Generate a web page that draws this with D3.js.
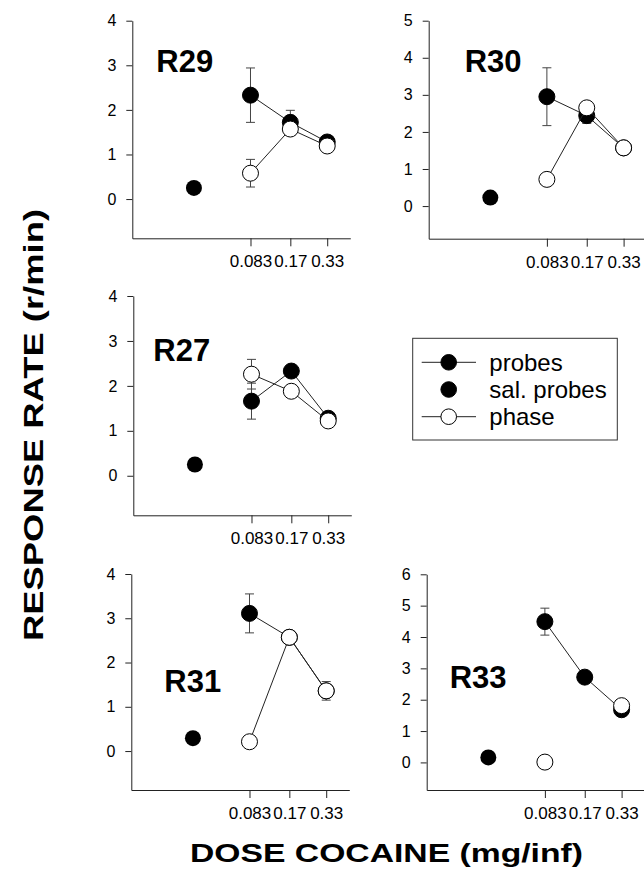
<!DOCTYPE html>
<html>
<head>
<meta charset="utf-8">
<script src="https://cdn.jsdelivr.net/npm/d3@7"></script>
<style>
  body { margin: 0; background: #fff; overflow: hidden; }
  svg { display: block; }
  text { font-family: "Liberation Sans", Arial, sans-serif; fill: #000; }
</style>
</head>
<body>
<div id="chart"></div>
<script>
const width = 644;
const height = 875;

// data
const doses = [0.083, 0.17, 0.33];
const doseLabels = ["0.083", "0.17", "0.33"];
const salineDose = 0.03; // saline probes sit left of the dose range
const subjects = ["R29", "R30", "R27", "R31", "R33"];
const yMax = [4, 5, 4, 4, 6];
const probes = [
  [2.33, 1.72, 1.28],
  [2.95, 2.44, 1.57],
  [1.66, 2.33, 1.28],
  [3.11, 2.57, 1.36],
  [4.49, 2.72, 1.68]
];
const probesErr = [
  [0.61, 0.27, 0],
  [0.78, 0.21, 0],
  [0.40, 0, 0],
  [0.44, 0, 0.21],
  [0.43, 0.17, 0]
];
const phase = [
  [0.58, 1.57, 1.19],
  [0.72, 2.65, 1.57],
  [2.26, 1.88, 1.22],
  [0.21, 2.57, 1.36],
  [0.01, null, 1.81]
];
const phaseErr = [
  [0.31, 0, 0],
  [0, 0, 0],
  [0.33, 0, 0],
  [0, 0, 0],
  [0, 0, 0]
];
const saline = [0.25, 0.23, 0.25, 0.29, 0.16];
const legendLabels = ["probes", "sal. probes", "phase"];

// panel layout
const layout = [
  { left: 132.3, top: 20.7, h: 217.6, tx: 24, ty: 51 },
  { left: 428.7, top: 20.7, h: 218, tx: 36, ty: 51 },
  { left: 133.3, top: 296, h: 219.3, tx: 20, ty: 65 },
  { left: 131.3, top: 574, h: 216, tx: 33, ty: 118 },
  { left: 426.7, top: 574.3, h: 215.7, tx: 23, ty: 114 }
];
const panelW = 218;
const yMin = -0.88;
const r = 8;

let svg = d3.select("#chart")
  .append("svg")
  .attr("width", width)
  .attr("height", height)
  .attr("viewBox", [0, 0, width, height]);

subjects.forEach((name, i) => {
  const L = layout[i];
  let x = d3.scaleLog()
    .domain([0.0099, 0.5])
    .range([L.left, L.left + panelW]);
  let y = d3.scaleLinear()
    .domain([yMin, yMax[i]])
    .range([L.top + L.h, L.top]);

  let g = svg.append("g");

  g.append("g")
    .attr("transform", `translate(0,${L.top + L.h})`)
    .call(d3.axisBottom(x)
      .tickValues(doses)
      .tickFormat((d, j) => doseLabels[j])
      .tickSize(8)
      .tickSizeOuter(0)
      .tickPadding(9))
    .attr("font-size", 17)
    .attr("font-family", null)
    .call(a => a.selectAll("line, path").attr("stroke", "#222"));

  g.append("g")
    .attr("transform", `translate(${L.left},0)`)
    .call(d3.axisLeft(y)
      .tickValues(d3.range(0, yMax[i] + 1))
      .tickFormat(d3.format("d"))
      .tickSize(6)
      .tickSizeOuter(0)
      .tickPadding(10))
    .attr("font-size", 16)
    .attr("font-family", null)
    .call(a => a.selectAll("line, path").attr("stroke", "#222"));

  g.append("text")
    .attr("x", L.left + L.tx)
    .attr("y", L.top + L.ty)
    .attr("font-size", 31)
    .attr("font-weight", "bold")
    .text(name);

  const series = [
    { vals: probes[i], errs: probesErr[i], fill: "#000" },
    { vals: phase[i], errs: phaseErr[i], fill: "#fff" }
  ];

  // error bars
  series.forEach(s => {
    s.vals.forEach((v, j) => {
      const e = s.errs[j];
      if (v == null || !e) return;
      const cx = x(doses[j]);
      g.append("line")
        .attr("stroke", "#444").attr("stroke-width", 1)
        .attr("x1", cx).attr("x2", cx)
        .attr("y1", y(v - e)).attr("y2", y(v + e));
      [v - e, v + e].forEach(b => {
        g.append("line")
          .attr("stroke", "#444").attr("stroke-width", 1)
          .attr("x1", cx - 4.5).attr("x2", cx + 4.5)
          .attr("y1", y(b)).attr("y2", y(b));
      });
    });
  });

  // lines and markers
  series.forEach(s => {
    const pts = s.vals.map((v, j) => ({ d: doses[j], v }));
    g.append("path")
      .datum(pts)
      .attr("fill", "none")
      .attr("stroke", "#222")
      .attr("stroke-width", 1)
      .attr("d", d3.line()
        .defined(p => p.v != null)
        .x(p => x(p.d))
        .y(p => y(p.v)));
    g.selectAll(null)
      .data(pts.filter(p => p.v != null))
      .join("circle")
        .attr("cx", p => x(p.d))
        .attr("cy", p => y(p.v))
        .attr("r", r)
        .attr("fill", s.fill)
        .attr("stroke", "#000")
        .attr("stroke-width", 1);
  });

  g.append("circle")
    .attr("cx", x(salineDose))
    .attr("cy", y(saline[i]))
    .attr("r", r)
    .attr("fill", "#000");
});

// legend
let legend = svg.append("g");
legend.append("rect")
  .attr("x", 412.7).attr("y", 338.3)
  .attr("width", 204.6).attr("height", 101.7)
  .attr("fill", "none")
  .attr("stroke", "#333")
  .attr("stroke-width", 1);
const legendStyles = [
  { line: true, fill: "#000" },
  { line: false, fill: "#000" },
  { line: true, fill: "#fff" }
];
legendLabels.forEach((lab, k) => {
  const ly = 362.3 + k * 27.2;
  const st = legendStyles[k];
  if (st.line) {
    legend.append("line")
      .attr("x1", 421.7).attr("x2", 476)
      .attr("y1", ly).attr("y2", ly)
      .attr("stroke", "#222").attr("stroke-width", 1);
  }
  legend.append("circle")
    .attr("cx", 448.7).attr("cy", ly).attr("r", 7.8)
    .attr("fill", st.fill).attr("stroke", "#000").attr("stroke-width", 1);
  legend.append("text")
    .attr("x", 489.3).attr("y", ly)
    .attr("dy", "0.35em")
    .attr("font-size", 24)
    .text(lab);
});

// axis titles
svg.append("text")
  .attr("transform", "translate(43,425) rotate(-90)")
  .attr("text-anchor", "middle")
  .attr("font-size", 28)
  .attr("font-weight", "bold")
  .attr("textLength", 432)
  .attr("lengthAdjust", "spacingAndGlyphs")
  .text("RESPONSE RATE (r/min)");

svg.append("text")
  .attr("x", 386.5).attr("y", 862)
  .attr("text-anchor", "middle")
  .attr("font-size", 26)
  .attr("font-weight", "bold")
  .attr("textLength", 393)
  .attr("lengthAdjust", "spacingAndGlyphs")
  .text("DOSE COCAINE (mg/inf)");
</script>
</body>
</html>
